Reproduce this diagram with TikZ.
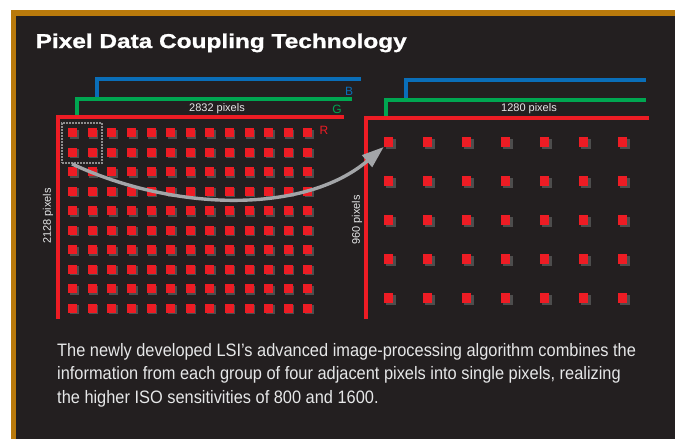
\documentclass[tikz,border=0pt]{standalone}
\usepackage{fontspec}
\setmainfont{Liberation Sans}
\newfontfamily\titlefont{Liberation Sans}[BoldFeatures={FakeStretch=1.22,FakeBold=1.2}]
\newfontfamily\bodyfont{Liberation Sans}[FakeStretch=0.91]
\usetikzlibrary{arrows.meta,shadows}
\definecolor{panel}{HTML}{231F20}
\definecolor{gold}{HTML}{B97A0C}
\definecolor{chanR}{HTML}{ED1C24}
\definecolor{chanG}{HTML}{00A651}
\definecolor{chanB}{HTML}{0A6EB8}
\definecolor{shade}{HTML}{4D4D4D}
\definecolor{labelgray}{HTML}{E6E7E8}
\definecolor{arrowgray}{HTML}{A3A5A8}
\definecolor{boxgray}{HTML}{8E8E8E}
\tikzset{
  lpix/.style={fill=chanR, minimum size=9pt, inner sep=0pt, draw=none,
    drop shadow={shadow xshift=1.5pt, shadow yshift=-1.5pt, fill=shade, opacity=1}},
  rpix/.style={fill=chanR, minimum size=9.5pt, inner sep=0pt, draw=none,
    drop shadow={shadow xshift=2.2pt, shadow yshift=-2.2pt, fill=shade, opacity=1}},
  bracketline/.style={line width=3.4pt},
  dimlabel/.style={text=labelgray, font=\fontsize{11}{13}\selectfont, inner sep=0pt},
  chanlabel/.style={font=\fontsize{12}{14}\selectfont, inner sep=0pt},
  grpbox/.style={draw=boxgray, line width=1.9pt, dash pattern=on 1.6pt off 1.4pt,
    minimum width=40pt, minimum height=40pt, inner sep=0pt},
  flow/.style={draw=arrowgray, line width=3.4pt,
    -{Triangle[length=22pt,width=15pt,fill=arrowgray]}},
}
\begin{document}
\begin{tikzpicture}[x=1pt,y=-1pt]
\useasboundingbox (0,0) rectangle (675,439);
% panel with gold rule on top and left
\fill[panel] (11,10) rectangle (675,439);
\fill[gold] (11,10) rectangle (675,16);
\fill[gold] (11,10) rectangle (16,439);

% heading
\node[anchor=base west, inner sep=0pt, text=white] (title) at (35.5,48)
  {\titlefont\bfseries\fontsize{20}{24}\selectfont Pixel Data Coupling Technology};

% ---- full-resolution sensor (left) ----
\draw[bracketline, chanB] (97,99) -- (97,79) -- (361,79);
\draw[bracketline, chanG] (77,117) -- (77,99) -- (352,99);
\draw[bracketline, chanR] (58,319) -- (58,117) -- (344,117);
\node[chanlabel, text=chanB] (lB) at (349,91) {B};
\node[chanlabel, text=chanG] (lG) at (337,109) {G};
\node[chanlabel, text=chanR] (lR) at (324,130) {R};
\node[dimlabel] (lw) at (217,109) {2832 pixels};
\node[dimlabel, rotate=90] (lh) at (48,216) {2128 pixels};

\foreach \c in {0,...,12}
  \foreach \r in {0,...,9}
    \node[lpix] (l-\c-\r) at ({72.8+19.58*\c},{132.8+19.5*\r}) {};

\node[grpbox] (grp) at (82,143) {};

% ---- coupled output (right) ----
\draw[bracketline, chanB] (406,99) -- (406,80) -- (646,80);
\draw[bracketline, chanG] (386,117) -- (386,100) -- (646,100);
\draw[bracketline, chanR] (366,319) -- (366,118) -- (649,118);
\node[dimlabel] (rw) at (529,109) {1280 pixels};
\node[dimlabel, rotate=90] (rh) at (357,220) {960 pixels};

\foreach \c in {0,...,6}
  \foreach \r in {0,...,4}
    \node[rpix] (r-\c-\r) at ({388.7+39*\c},{142+39*\r}) {};

% four pixels merged into one
\draw[flow] ([xshift=11pt]grp.south west) .. controls (175,212) and (305,214) .. (r-0-0.south west);

% caption (anchored on the baseline of its last line)
\node[anchor=base west, align=left, inner sep=0pt, text=labelgray,
      font=\bodyfont\fontsize{18}{23.5}\selectfont] (caption) at (57,403)
  {The newly developed LSI’s advanced image-processing algorithm combines the\\
   information from each group of four adjacent pixels into single pixels, realizing\\
   the higher ISO sensitivities of 800 and 1600.};
\end{tikzpicture}
\end{document}
